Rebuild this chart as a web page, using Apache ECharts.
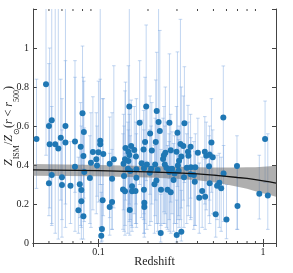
<!DOCTYPE html>
<html><head><meta charset="utf-8">
<script src="https://cdn.jsdelivr.net/npm/echarts@6/dist/echarts.min.js"></script>
<style>html,body{margin:0;padding:0;background:#fff}#c{width:293px;height:273px}</style>
</head><body><div id="c"></div>
<script>
// Cluster redshifts
const redshift = [0.048,0.042,0.052,0.050,0.063,0.080,0.0815,0.059,0.0505,0.0546,0.063,0.057,0.072,0.078,0.081,0.0925,0.100,0.107,0.1025,0.1025,0.097,0.090,0.098,0.124,0.117,0.072,0.082,0.052,0.060,0.0887,0.121,0.050,0.060,0.0676,0.077,0.0787,0.106,0.0787,0.121,0.117,0.0755,0.081,0.105,0.104,
0.154,0.178,0.195,0.226,0.232,0.270,0.206,0.236,0.192,0.223,0.146,0.158,0.165,0.152,0.188,0.211,0.255,0.275,0.154,0.169,0.145,0.152,0.183,0.197,0.221,0.253,0.142,0.151,0.156,0.170,0.189,0.209,0.229,0.269,0.143,0.170,0.205,0.225,0.219,0.141,0.145,0.160,0.160,0.168,0.189,0.240,0.263,0.190,0.190,0.155,
0.333,0.574,0.302,0.486,1.03,0.315,0.328,0.298,0.350,0.363,0.443,0.452,0.474,0.495,0.402,0.250,0.352,0.319,0.309,0.247,0.304,0.344,0.365,0.388,0.470,0.695,0.259,0.280,0.269,0.290,0.307,0.331,0.363,0.380,0.576,0.286,0.385,0.474,0.543,0.526,0.557,0.275,0.427,0.410,0.445,0.950,1.07,0.700,0.516,0.600,0.239,0.299,0.319];
// Z_ISM / Z_sun
const metal = [0.814,0.533,0.629,0.600,0.600,0.665,0.569,0.540,0.506,0.506,0.516,0.484,0.520,0.494,0.446,0.467,0.465,0.456,0.525,0.506,0.429,0.412,0.397,0.429,0.407,0.391,0.364,0.349,0.337,0.333,0.330,0.306,0.297,0.294,0.301,0.272,0.219,0.214,0.210,0.185,0.168,0.137,0.072,0.037,
0.700,0.617,0.700,0.677,0.620,0.617,0.562,0.574,0.518,0.518,0.487,0.497,0.477,0.468,0.480,0.475,0.463,0.476,0.451,0.443,0.429,0.420,0.409,0.403,0.403,0.403,0.407,0.381,0.369,0.378,0.383,0.381,0.374,0.378,0.344,0.335,0.360,0.320,0.301,0.275,0.265,0.291,0.265,0.267,0.273,0.273,0.273,0.207,0.185,0.169,
0.614,0.643,0.566,0.516,0.533,0.508,0.497,0.468,0.468,0.494,0.468,0.448,0.453,0.440,0.463,0.450,0.448,0.443,0.422,0.431,0.397,0.386,0.388,0.388,0.393,0.395,0.386,0.381,0.364,0.357,0.371,0.337,0.352,0.349,0.357,0.323,0.314,0.306,0.309,0.294,0.281,0.260,0.267,0.232,0.237,0.253,0.243,0.190,0.147,0.120,0.051,0.041,0.058];
// lower end of error bar
const errLow = [0.45,0.28,0.10,0.30,0.08,0.40,0.23,0.22,0.18,0.05,0.20,0.02,0.26,0.09,0.26,0.17,0.21,0.14,0.08,0.30,0.15,0.08,0.24,0.18,0.13,0.06,0.11,0.09,0.12,0.10,0.07,0.14,0.03,0.10,0.13,0.02,0.06,0.08,0.07,0.04,0.05,0.02,0.01,0.005,
0.20,0.30,0.32,0.35,0.10,0.33,0.25,0.28,0.10,0.22,0.22,0.09,0.15,0.18,0.12,0.20,0.15,0.21,0.11,0.20,0.09,0.16,0.13,0.07,0.14,0.10,0.17,0.05,0.12,0.08,0.15,0.11,0.06,0.12,0.06,0.10,0.09,0.10,0.05,0.07,0.04,0.08,0.06,0.10,0.05,0.09,0.07,0.03,0.05,0.04,
0.31,0.37,0.29,0.26,0.31,0.12,0.22,0.10,0.19,0.23,0.20,0.17,0.22,0.15,0.24,0.16,0.14,0.18,0.08,0.10,0.12,0.10,0.13,0.09,0.14,0.07,0.08,0.15,0.06,0.10,0.14,0.08,0.12,0.07,0.11,0.06,0.09,0.10,0.08,0.12,0.06,0.05,0.08,0.05,0.07,0.123,0.07,0.07,0.03,0.022,0.005,0.005,0.01];
// upper end of error bar
const errHigh = [1.30,0.84,1.30,0.92,1.30,1.01,0.83,0.84,1.00,1.30,0.935,1.30,0.935,0.72,0.85,0.75,0.83,0.74,1.30,0.84,0.668,0.668,0.60,0.909,0.646,0.85,0.59,0.70,0.74,0.55,0.668,0.62,0.58,0.52,0.50,0.60,0.74,0.50,0.48,0.46,0.44,0.38,0.30,0.26,
1.30,0.935,1.118,0.978,1.30,0.97,0.754,1.09,0.85,0.836,0.825,0.733,0.70,0.909,0.68,0.72,0.80,0.66,0.66,0.62,0.78,0.58,0.63,0.70,0.64,0.60,0.66,0.62,0.55,0.74,0.58,0.60,0.62,0.56,0.60,0.56,0.58,0.52,0.50,0.56,0.46,0.49,0.44,0.46,0.52,0.48,0.50,0.42,0.40,0.38,
0.904,0.908,0.98,0.74,0.728,1.147,0.754,0.70,0.706,0.66,0.648,0.62,0.60,0.58,0.64,0.70,0.62,0.80,0.60,0.64,0.58,0.56,0.54,0.56,0.55,0.55,0.62,0.57,0.52,0.55,0.53,0.50,0.49,0.52,0.50,0.51,0.47,0.47,0.46,0.45,0.44,0.46,0.44,0.41,0.43,0.45,0.56,0.40,0.35,0.30,0.25,0.22,0.27];
// best-fit relation and its confidence band
const fitZ    = [0.04,0.1,0.2,0.3,0.4,0.5,0.6,0.7,0.8,0.9,1.0,1.1,1.2];
const fitY    = [0.375,0.371,0.365,0.360,0.354,0.348,0.342,0.336,0.331,0.325,0.319,0.313,0.307];
const bandLow = [0.345,0.342,0.336,0.329,0.322,0.311,0.300,0.289,0.278,0.266,0.255,0.246,0.237];
const bandUp  = [0.405,0.400,0.395,0.391,0.388,0.387,0.387,0.387,0.388,0.389,0.391,0.393,0.396];
const minorX = [0.05,0.06,0.07,0.08,0.09,0.2,0.3,0.4,0.5,0.6,0.7,0.8,0.9];
const xTickLabels = {'0.1':'0.1','1':'1'};

const serif = 'Liberation Serif';
const axisCol = '#444';
const chart = echarts.init(document.getElementById('c'), null, {renderer:'canvas'});
const xBase = {type:'log', logBase:10, min:0.04, max:1.2, splitLine:{show:false},
  axisLine:{show:true, lineStyle:{color:axisCol, width:1}},
  axisTick:{show:true, inside:true, length:4, lineStyle:{color:axisCol, width:1}}};
const yBase = {type:'value', min:0, max:1.2, interval:0.2, splitLine:{show:false},
  axisLine:{show:true, lineStyle:{color:axisCol, width:1}},
  axisTick:{show:true, inside:true, length:4, lineStyle:{color:axisCol, width:1}}};
const mainTok = {fontFamily:serif, fontSize:12, fontStyle:'italic', color:'#222', lineHeight:18, verticalAlign:'top'};
const mainUp = {fontFamily:serif, fontSize:12, color:'#222', lineHeight:18, verticalAlign:'top'};
const subTok = {fontFamily:serif, fontSize:8, color:'#222', lineHeight:10, verticalAlign:'bottom'};

chart.setOption({
  animation:false,
  grid:{left:33, right:17, top:9, bottom:30, containLabel:false, outerBoundsMode:'none'},
  xAxis:[
    Object.assign({}, xBase, {position:'bottom', name:'Redshift', nameLocation:'middle', nameGap:13, nameMoveOverlap:false,
      nameTextStyle:{fontFamily:serif, fontSize:12, color:'#222'},
      axisLabel:{show:true, margin:4, fontFamily:serif, fontSize:10, color:'#222',
        formatter:v=>{ if(Math.abs(v-0.1)<1e-6) return xTickLabels['0.1']; if(Math.abs(v-1)<1e-6) return xTickLabels['1']; return ''; }}}),
    Object.assign({}, xBase, {position:'top', axisLabel:{show:false}})
  ],
  yAxis:[
    Object.assign({}, yBase, {position:'left',
      name:'{i|Z}{s|ISM}{n|/}{i|Z}{s|⊙}{n|(}{i|r}{n| < }{i|r}{s|500}{n|)}',
      nameLocation:'middle', nameGap:12, nameRotate:90, nameMoveOverlap:false,
      nameTextStyle:{rich:{i:mainTok, n:mainUp, s:subTok}},
      axisLabel:{show:true, margin:4, fontFamily:serif, fontSize:10, color:'#222',
        formatter:v=> v>1.1 ? '' : String(+v.toFixed(1))}}),
    Object.assign({}, yBase, {position:'right', axisLabel:{show:false}})
  ],
  series:[
    {type:'custom', xAxisIndex:0, yAxisIndex:0, z:1, clip:true,
      data: redshift.map((x,i)=>[x, errLow[i], errHigh[i]]),
      renderItem:(params, api)=>{
        const x = api.value(0);
        const p1 = api.coord([x, api.value(1)]);
        const p2 = api.coord([x, api.value(2)]);
        const st = {stroke:'rgba(120,165,225,0.45)', lineWidth:1};
        return {type:'group', children:[
          {type:'line', shape:{x1:p1[0], y1:p1[1], x2:p2[0], y2:p2[1]}, style:st},
          {type:'line', shape:{x1:p1[0]-1.8, y1:p1[1], x2:p1[0]+1.8, y2:p1[1]}, style:st},
          {type:'line', shape:{x1:p2[0]-1.8, y1:p2[1], x2:p2[0]+1.8, y2:p2[1]}, style:st}
        ]};
      }},
    {type:'custom', xAxisIndex:0, yAxisIndex:0, z:2, clip:true, silent:true,
      data:[[fitZ[0], fitY[0]]],
      renderItem:(params, api)=>{
        const pts = [];
        for (let i=0;i<fitZ.length;i++) pts.push(api.coord([fitZ[i], bandUp[i]]));
        for (let i=fitZ.length-1;i>=0;i--) pts.push(api.coord([fitZ[i], bandLow[i]]));
        return {type:'polygon', shape:{points:pts}, style:{fill:'rgba(110,110,110,0.55)'}};
      }},
    {type:'scatter', xAxisIndex:0, yAxisIndex:0, z:3, symbolSize:6,
      itemStyle:{color:'#1f77b4', opacity:1},
      data: redshift.map((x,i)=>[x, metal[i]])},
    {type:'line', xAxisIndex:0, yAxisIndex:0, z:4, showSymbol:false, symbol:'none',
      lineStyle:{color:'#111', width:1.3},
      data: fitZ.map((x,i)=>[x, fitY[i]])},
    {type:'custom', xAxisIndex:0, yAxisIndex:0, z:5, clip:false, silent:true,
      data: minorX.map(x=>[x, 0]),
      renderItem:(params, api)=>{
        const x = api.value(0);
        const b = api.coord([x, 0]);
        const t = api.coord([x, 1.2]);
        const st = {stroke:axisCol, lineWidth:1};
        return {type:'group', children:[
          {type:'line', shape:{x1:b[0], y1:b[1], x2:b[0], y2:b[1]-2}, style:st},
          {type:'line', shape:{x1:t[0], y1:t[1], x2:t[0], y2:t[1]+2}, style:st}
        ]};
      }}
  ]
});
</script></body></html>
